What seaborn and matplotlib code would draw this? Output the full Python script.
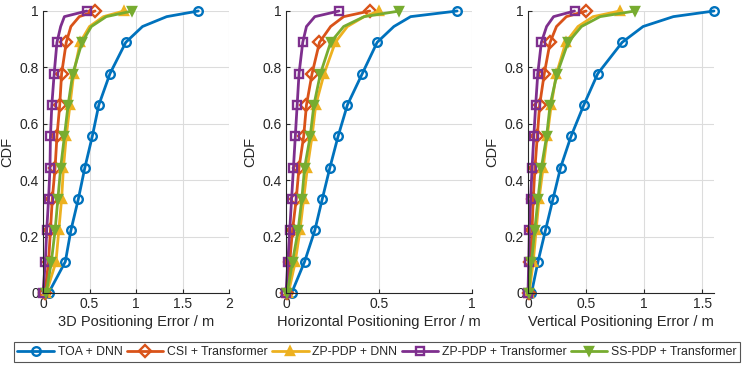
import numpy as np
import pandas as pd
import matplotlib
matplotlib.use("Agg")
import matplotlib.pyplot as plt
from matplotlib.lines import Line2D
import seaborn as sns

# CDF levels: 10 marker levels plus two extra points near the knee
cdf = [0, 1/9, 2/9, 3/9, 4/9, 5/9, 6/9, 7/9, 8/9, 0.945, 0.98, 1.0]
marker_idx = [0, 1, 2, 3, 4, 5, 6, 7, 8, 11]

methods = ["TOA + DNN", "CSI + Transformer", "ZP-PDP + DNN",
           "ZP-PDP + Transformer", "SS-PDP + Transformer"]

# 3D positioning error (m) at each cdf level
err_3d = {
    "TOA + DNN":            [0.06, 0.24, 0.30, 0.38, 0.45, 0.53, 0.60, 0.72, 0.89, 1.07, 1.33, 1.67],
    "CSI + Transformer":    [0.02, 0.06, 0.08, 0.10, 0.13, 0.15, 0.18, 0.20, 0.25, 0.30, 0.39, 0.56],
    "ZP-PDP + DNN":         [0.035, 0.14, 0.17, 0.20, 0.22, 0.25, 0.29, 0.33, 0.40, 0.50, 0.65, 0.87],
    "ZP-PDP + Transformer": [0.0, 0.025, 0.04, 0.06, 0.075, 0.08, 0.095, 0.12, 0.15, 0.19, 0.23, 0.47],
    "SS-PDP + Transformer": [0.035, 0.09, 0.13, 0.16, 0.19, 0.23, 0.27, 0.32, 0.42, 0.52, 0.68, 0.96],
}

# Horizontal positioning error (m)
err_hor = {
    "TOA + DNN":            [0.03, 0.10, 0.155, 0.195, 0.236, 0.28, 0.33, 0.41, 0.49, 0.58, 0.67, 0.92],
    "CSI + Transformer":    [0.005, 0.02, 0.035, 0.055, 0.07, 0.095, 0.11, 0.14, 0.18, 0.24, 0.31, 0.45],
    "ZP-PDP + DNN":         [0.013, 0.05, 0.075, 0.095, 0.115, 0.14, 0.16, 0.205, 0.265, 0.33, 0.42, 0.50],
    "ZP-PDP + Transformer": [0.0, 0.01, 0.02, 0.03, 0.04, 0.05, 0.06, 0.07, 0.09, 0.11, 0.155, 0.285],
    "SS-PDP + Transformer": [0.007, 0.035, 0.065, 0.085, 0.10, 0.13, 0.15, 0.185, 0.24, 0.31, 0.42, 0.61],
}

# Vertical positioning error (m)
err_ver = {
    "TOA + DNN":            [0.03, 0.086, 0.15, 0.215, 0.28, 0.37, 0.48, 0.60, 0.81, 0.99, 1.25, 1.60],
    "CSI + Transformer":    [0.01, 0.02, 0.035, 0.045, 0.06, 0.08, 0.10, 0.14, 0.19, 0.245, 0.33, 0.50],
    "ZP-PDP + DNN":         [0.01, 0.045, 0.07, 0.095, 0.13, 0.165, 0.20, 0.245, 0.325, 0.43, 0.56, 0.79],
    "ZP-PDP + Transformer": [0.0, 0.006, 0.012, 0.023, 0.035, 0.05, 0.066, 0.084, 0.115, 0.16, 0.22, 0.40],
    "SS-PDP + Transformer": [0.006, 0.03, 0.058, 0.086, 0.115, 0.16, 0.19, 0.25, 0.345, 0.46, 0.62, 0.92],
}

colors = ["#0072BD", "#D95319", "#EDB120", "#7E2F8E", "#77AC30"]
markers = ["o", "D", "^", "s", "v"]
filled = [False, False, True, False, True]

panels = [
    (err_3d, "3D Positioning Error / m", 2.0, [0, 0.5, 1, 1.5, 2], ["0", "0.5", "1", "1.5", "2"]),
    (err_hor, "Horizontal Positioning Error / m", 1.0, [0, 0.5, 1], ["0", "0.5", "1"]),
    (err_ver, "Vertical Positioning Error / m", 1.6, [0, 0.5, 1, 1.5], ["0", "0.5", "1", "1.5"]),
]

sns.set_style("white")
plt.rcParams["font.family"] = ["Liberation Sans", "DejaVu Sans"]

fig = plt.figure(figsize=(7.55, 3.67), dpi=100)
lefts = [43 / 755, 286 / 755, 528 / 755]

for i, (data, xlabel, xmax, xt, xtl) in enumerate(panels):
    ax = fig.add_axes([lefts[i], 1 - 293 / 367, 186 / 755, 282 / 367])
    for m, c, mk, f in zip(methods, colors, markers, filled):
        sns.lineplot(x=data[m], y=cdf, ax=ax, color=c, lw=2.0, sort=False,
                     estimator=None, marker=mk, markersize=6.2,
                     markevery=marker_idx, markerfacecolor=c if f else "none",
                     markeredgecolor=c, markeredgewidth=1.7, clip_on=False)
    ax.set_xlim(0, xmax)
    ax.set_ylim(0, 1)
    ax.set_xticks(xt)
    ax.set_xticklabels(xtl)
    ax.set_yticks([0, 0.2, 0.4, 0.6, 0.8, 1])
    ax.set_yticklabels(["0", "0.2", "0.4", "0.6", "0.8", "1"])
    ax.grid(True, color="#dcdcdc", lw=0.8)
    ax.set_axisbelow(True)
    for s in ["top", "right"]:
        ax.spines[s].set_visible(False)
    for s in ["left", "bottom"]:
        ax.spines[s].set_color("#262626")
        ax.spines[s].set_linewidth(0.8)
    ax.tick_params(direction="in", length=3, labelsize=10, colors="#262626",
                   left=True, bottom=True, pad=3)
    ax.set_xlabel(xlabel, fontsize=10.5, color="#262626", labelpad=3)
    ax.set_ylabel("CDF", fontsize=10.5, color="#262626", labelpad=4)

handles = [Line2D([], [], color=c, lw=2.0, marker=mk, markersize=6.2,
                  markerfacecolor=c if f else "none", markeredgecolor=c,
                  markeredgewidth=1.7)
           for c, mk, f in zip(colors, markers, filled)]

leg = fig.legend(handles, methods, ncol=5, loc="center", numpoints=1,
                 bbox_to_anchor=(377 / 755, 1 - 352 / 367),
                 fontsize=8.8, frameon=True, fancybox=False,
                 handlelength=3.0, handletextpad=0.3, columnspacing=0.35,
                 borderpad=0.3, borderaxespad=0, edgecolor="#555555",
                 framealpha=1)
leg.get_frame().set_linewidth(0.8)

fig.savefig("out.png", dpi=100)
